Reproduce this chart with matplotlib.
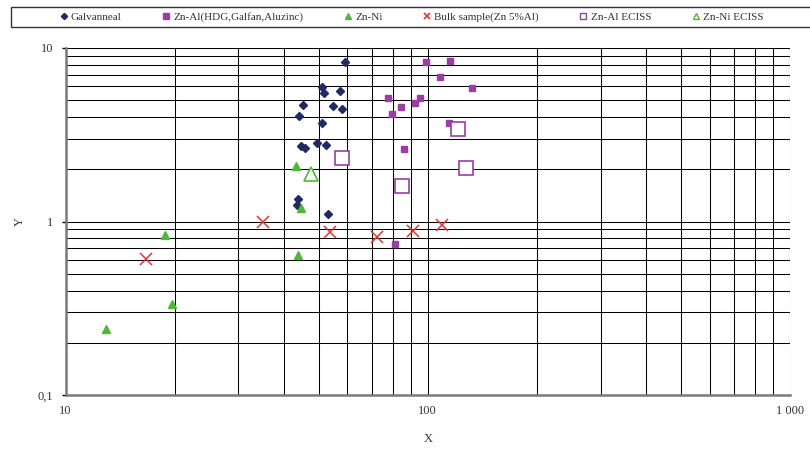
import matplotlib
matplotlib.use("Agg")
import matplotlib.pyplot as plt
from matplotlib.ticker import FixedLocator, FixedFormatter, NullFormatter
from matplotlib.lines import Line2D
from matplotlib.patches import Rectangle

plt.rcParams['font.family'] = ['Liberation Serif', 'DejaVu Serif']

galv_x = [59.1, 51.1, 51.7, 57.2, 45.3, 54.6, 57.8, 44.0, 51.0, 44.7, 45.8, 49.5, 52.3, 43.9, 43.6, 53.2]
galv_y = [8.27, 5.93, 5.47, 5.66, 4.68, 4.64, 4.44, 4.03, 3.72, 2.72, 2.64, 2.85, 2.75, 1.34, 1.24, 1.10]

znal_x = [98.6, 115.5, 107.9, 132.3, 77.9, 95.1, 92.3, 84.2, 79.9, 114.8, 86.0, 81.1]
znal_y = [8.27, 8.45, 6.77, 5.85, 5.14, 5.14, 4.85, 4.60, 4.16, 3.69, 2.61, 0.743]

znni_x = [43.4, 44.6, 18.8, 43.7, 19.7, 12.96]
znni_y = [2.09, 1.20, 0.841, 0.644, 0.334, 0.241]

bulk_x = [16.7, 35.0, 53.7, 72.2, 91.1, 109.5]
bulk_y = [0.609, 1.00, 0.872, 0.816, 0.879, 0.952]

znal_ec_x = [57.9, 121.5, 127.9, 85.1]
znal_ec_y = [2.31, 3.40, 2.03, 1.61]

znni_ec_x = [47.6]
znni_ec_y = [1.89]

labels = ["Galvanneal", "Zn-Al(HDG,Galfan,Aluzinc)", "Zn-Ni", "Bulk sample(Zn 5%Al)",
          "Zn-Al ECISS", "Zn-Ni ECISS"]

x_ticks = [10, 100, 1000]
x_tick_labels = ["10", "100", "1 000"]
y_ticks = [0.1, 1, 10]
y_tick_labels = ["0,1", "1", "10"]

text_col = '#333333'
navy = '#1f2a66'
purple = '#9a3da6'
green = '#4cbb33'
red = '#f03030'

fig = plt.figure(figsize=(8.10, 4.51), dpi=100)
ax = fig.add_axes([65.5/810, 56/451, (790-65.5)/810, (395-48)/451])
ax.set_xscale('log')
ax.set_yscale('log')
ax.set_xlim(10, 1000)
ax.set_ylim(0.1, 10)

ax.plot(galv_x, galv_y, linestyle='none', marker='D', ms=4.2, color=navy, zorder=3)
ax.plot(znal_x, znal_y, linestyle='none', marker='s', ms=5, color=purple, zorder=3)
ax.plot(znni_x, znni_y, linestyle='none', marker='^', ms=5.5, color=green, zorder=3)
ax.plot(bulk_x, bulk_y, linestyle='none', marker='x', ms=8, mew=1.1, color=red, zorder=3)
ax.plot(znal_ec_x, znal_ec_y, linestyle='none', marker='s', ms=9.5, mfc='white',
        mec=purple, mew=1.2, zorder=3)
ax.plot(znni_ec_x, znni_ec_y, linestyle='none', marker='^', ms=10.5, mfc='white',
        mec=green, mew=1.2, zorder=3)

ax.grid(True, which='both', axis='both', color='black', linewidth=0.75)
ax.set_axisbelow(True)

ax.xaxis.set_major_locator(FixedLocator(x_ticks))
ax.xaxis.set_major_formatter(FixedFormatter(x_tick_labels))
ax.xaxis.set_minor_formatter(NullFormatter())
ax.yaxis.set_major_locator(FixedLocator(y_ticks))
ax.yaxis.set_major_formatter(FixedFormatter(y_tick_labels))
ax.yaxis.set_minor_formatter(NullFormatter())
ax.tick_params(axis='x', which='both', length=0, pad=7, labelsize=9, labelcolor=text_col)
ax.tick_params(axis='y', which='major', length=3, width=1, direction='out', pad=6,
               labelsize=9, labelcolor=text_col)
ax.tick_params(axis='y', which='minor', length=0)

for s in ['top', 'right']:
    ax.spines[s].set_visible(False)
for s in ['left', 'bottom']:
    ax.spines[s].set_color('#7a7a7a')
    ax.spines[s].set_linewidth(1.8)

ax.set_xlabel('X', fontsize=9, labelpad=12, color=text_col)
ax.set_ylabel('Y', fontsize=9, labelpad=8, color=text_col)

handles = [
    Line2D([], [], linestyle='none', marker='D', ms=3.2, color=navy),
    Line2D([], [], linestyle='none', marker='s', ms=4, color=purple),
    Line2D([], [], linestyle='none', marker='^', ms=4, color=green),
    Line2D([], [], linestyle='none', marker='x', ms=4, mew=1.2, color=red),
    Line2D([], [], linestyle='none', marker='s', ms=4, mfc='white', mec=purple, mew=1),
    Line2D([], [], linestyle='none', marker='^', ms=4.5, mfc='white', mec=green, mew=1),
]

fig.add_artist(Rectangle((11/810, (451-27)/451), 1.0, 20/451, transform=fig.transFigure,
                         facecolor='white', edgecolor='#333333', linewidth=1.0))
leg = fig.legend(handles, labels, loc='center',
                 bbox_to_anchor=(412/810, (451-17)/451),
                 ncol=6, fontsize=8, frameon=False, handlelength=0.6,
                 handletextpad=0.35, columnspacing=3.7, borderaxespad=0, borderpad=0)
for t in leg.get_texts():
    t.set_color(text_col)

fig.savefig('out.png', dpi=100)
